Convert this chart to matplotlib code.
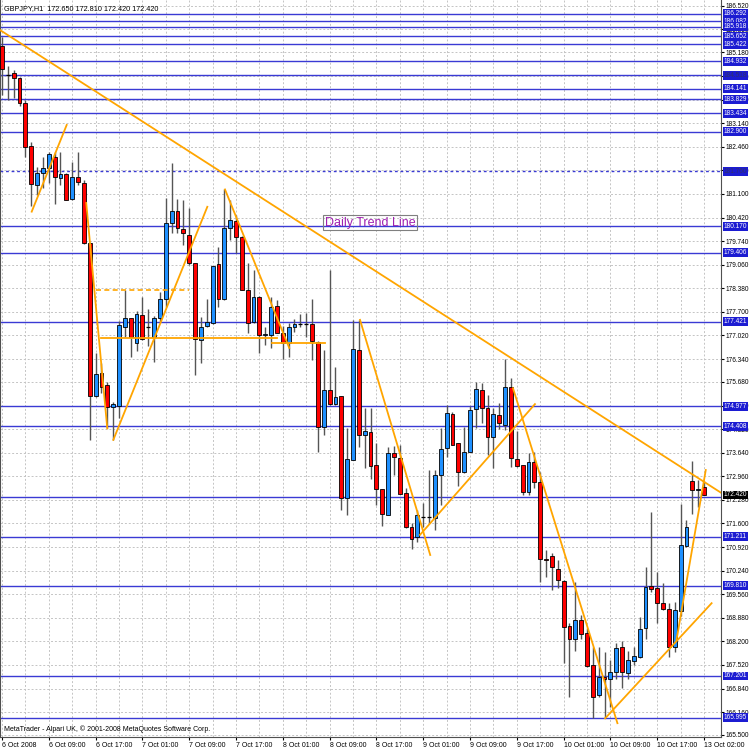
import matplotlib
matplotlib.use("Agg")
import matplotlib.pyplot as plt
from matplotlib.transforms import blended_transform_factory

plt.rcParams["font.family"] = ["Liberation Sans", "DejaVu Sans"]

# GBPJPY H1 candles (bar index = hours from 6 Oct 2008)
opens = [185.37, 184.54, 184.60, 184.45, 183.73, 182.48, 181.36, 181.70, 181.85, 182.17,
         181.56, 181.67, 180.95, 181.60, 181.42, 179.69, 175.28, 175.94, 175.59, 174.97,
         175.00, 177.27, 177.52, 176.81, 177.61, 177.25, 176.97, 177.52, 178.06, 180.27,
         180.61, 180.08, 179.92, 179.10, 176.89, 177.29, 177.37, 179.07, 178.06, 180.11,
         180.33, 179.87, 178.33, 177.42, 178.14, 177.03, 177.03, 177.88, 177.10, 176.81,
         177.27, 177.36, 177.36, 177.35, 176.84, 174.37, 175.45, 175.04, 175.27, 172.32,
         173.43, 176.60, 174.15, 174.24, 173.28, 172.58, 171.84, 173.64, 173.48, 172.47,
         171.49, 171.20, 171.78, 171.78, 171.75, 173.00, 173.77, 174.76, 173.91, 173.07,
         173.67, 174.89, 175.45, 174.92, 174.10, 174.73, 174.44, 175.54, 173.46, 173.28,
         172.51, 173.36, 172.80, 170.58, 170.66, 170.30, 169.95, 168.64, 168.26, 168.82,
         168.43, 167.51, 166.65, 167.18, 167.11, 167.32, 168.03, 167.30, 167.64, 167.74,
         168.58, 169.80, 169.73, 169.30, 169.12, 168.05, 169.08, 170.95, 172.83, 172.56,
         172.65]
highs = [185.63, 184.79, 184.67, 184.48, 183.81, 182.61, 181.89, 182.17, 182.32, 182.32,
         182.32, 181.71, 182.03, 182.32, 181.50, 179.70, 176.51, 176.23, 175.69, 175.11,
         177.45, 178.33, 177.53, 177.73, 178.14, 177.78, 177.58, 178.28, 180.98, 181.98,
         180.95, 180.93, 180.69, 179.10, 177.54, 178.06, 179.03, 179.58, 181.23, 180.93,
         180.49, 179.88, 179.10, 178.91, 178.15, 177.27, 178.14, 178.04, 177.29, 177.39,
         177.49, 177.64, 177.66, 178.06, 176.85, 176.60, 178.91, 176.12, 175.28, 174.34,
         177.47, 177.47, 174.92, 174.92, 173.91, 172.59, 173.81, 173.83, 173.86, 172.61,
         171.62, 171.99, 172.20, 173.14, 173.14, 174.34, 175.02, 174.82, 173.92, 174.39,
         174.99, 175.69, 175.64, 175.30, 174.92, 175.06, 176.33, 175.78, 174.27, 173.29,
         173.62, 173.67, 173.09, 170.83, 170.74, 170.55, 169.96, 168.74, 169.92, 168.96,
         168.58, 168.05, 168.05, 167.90, 167.66, 168.14, 168.22, 167.93, 168.05, 168.91,
         170.35, 171.94, 170.21, 169.87, 169.30, 169.34, 172.16, 171.70, 173.41, 172.85,
         172.81]
lows = [183.95, 183.81, 183.87, 183.64, 182.17, 180.75, 181.07, 181.27, 181.42, 180.81,
        181.36, 180.92, 180.93, 181.36, 179.66, 174.01, 175.25, 175.36, 174.35, 174.01,
        174.64, 176.98, 176.41, 176.58, 176.89, 176.72, 176.26, 177.42, 177.85, 179.97,
        179.97, 179.63, 179.05, 175.88, 176.22, 177.27, 177.35, 177.85, 178.04, 179.77,
        179.39, 178.32, 177.08, 177.37, 176.51, 176.74, 176.65, 177.09, 176.33, 176.39,
        177.13, 177.27, 176.98, 176.31, 173.67, 174.15, 175.01, 175.02, 171.99, 171.84,
        173.42, 173.81, 173.20, 172.88, 172.13, 171.53, 171.83, 173.00, 172.44, 171.48,
        170.85, 171.07, 171.49, 171.60, 171.41, 172.13, 173.52, 173.85, 172.68, 173.05,
        173.66, 174.34, 174.49, 173.57, 173.19, 174.31, 174.30, 173.24, 173.24, 172.42,
        172.42, 172.61, 169.92, 170.06, 169.68, 169.73, 167.58, 166.59, 167.93, 168.26,
        167.47, 165.98, 166.60, 166.00, 166.32, 167.11, 166.85, 167.11, 167.52, 167.72,
        168.26, 169.63, 168.74, 169.10, 167.74, 167.90, 168.93, 170.93, 171.87, 172.08,
        172.42]
closes = [184.70, 184.52, 184.44, 183.71, 182.46, 181.39, 181.70, 181.85, 182.25, 181.59,
          181.68, 180.93, 181.58, 181.45, 179.69, 175.28, 175.90, 175.54, 174.97, 175.04,
          177.32, 177.52, 176.97, 177.63, 176.91, 177.25, 177.52, 178.06, 180.25, 180.61,
          180.11, 179.97, 179.10, 176.91, 177.27, 177.40, 179.02, 178.06, 180.11, 180.35,
          179.85, 178.33, 177.39, 178.14, 177.03, 177.06, 177.83, 177.10, 176.81, 177.27,
          177.35, 177.36, 177.37, 176.87, 174.37, 175.45, 175.04, 175.25, 172.32, 173.45,
          176.62, 174.15, 174.26, 173.26, 172.58, 171.87, 173.64, 173.51, 172.45, 171.49,
          171.14, 171.84, 171.78, 171.78, 173.00, 173.74, 174.78, 173.86, 173.07, 173.67,
          174.87, 175.47, 174.92, 174.08, 174.76, 174.49, 175.54, 173.48, 173.26, 172.51,
          173.38, 172.80, 170.57, 170.55, 170.33, 169.97, 168.62, 168.26, 168.82, 168.41,
          167.49, 166.60, 167.18, 167.11, 167.32, 168.00, 167.32, 167.66, 167.78, 168.55,
          169.78, 169.70, 169.30, 169.12, 168.05, 169.10, 170.98, 171.51, 172.56, 172.60,
          172.42]

time_labels = ["6 Oct 2008", "6 Oct 09:00", "6 Oct 17:00", "7 Oct 01:00", "7 Oct 09:00",
               "7 Oct 17:00", "8 Oct 01:00", "8 Oct 09:00", "8 Oct 17:00", "9 Oct 01:00",
               "9 Oct 09:00", "9 Oct 17:00", "10 Oct 01:00", "10 Oct 09:00", "10 Oct 17:00",
               "13 Oct 02:00"]
price_ticks = [186.520, 185.850, 185.180, 184.500, 183.820, 183.140, 182.460, 181.780,
               181.100, 180.420, 179.740, 179.060, 178.380, 177.700, 177.020, 176.340,
               175.680, 175.000, 174.320, 173.640, 172.960, 172.280, 171.600, 170.920,
               170.240, 169.560, 168.880, 168.200, 167.520, 166.840, 166.160, 165.500]

# horizontal support / resistance levels
level_prices = [186.292, 186.082, 185.918, 185.652, 185.422, 184.932, 184.518, 184.141,
                183.829, 183.434, 182.900, 180.170, 179.406, 177.421, 174.977, 174.408,
                171.211, 169.810, 167.201, 165.995]
bid_line = 172.350
dotted_level = 181.760
last_price = 172.420

# orange drawn lines: (start bar, start price, end bar, end price)
seg_bar0 = [5.08, 14.4, 19.03, 38.12, 61.2, 71.45, 87.35, 103.1, 115.3, 17.0, 46.1]
seg_p0 = [180.59, 180.84, 174.01, 181.23, 177.47, 171.27, 175.50, 165.98, 168.24, 176.96, 176.81]
seg_bar1 = [11.06, 18.0, 35.1, 49.1, 73.2, 91.1, 105.2, 121.3, 120.3, 47.0, 55.2]
seg_p1 = [183.09, 174.34, 180.73, 176.66, 170.69, 175.04, 165.84, 169.30, 173.14, 176.96, 176.81]
dash_bar = [16.1, 32.0]
dash_price = 178.33
trend_pts = [(0, 185.79), (120, 172.80)]

BLUE_LINE = "#3a3ad4"
ORANGE = "#ffa500"

fig = plt.figure(figsize=(7.5, 7.5), dpi=100)
ax = fig.add_axes([0.0, 0.0173, 0.9613, 0.9827])
ax.set_xlim(-0.34, 122.9)
ax.set_ylim(165.441, 186.693)

# grid
ax.set_yticks(price_ticks)
ax.set_yticklabels([f"{p:.3f}" for p in price_ticks])
ax.set_xticks(range(0, 121, 8))
ax.set_xticklabels(time_labels)
ax.set_xticks(range(0, 121, 4), minor=True)
ax.grid(True, which="both", color="#c4c4c4", linestyle=(0, (2, 2)), linewidth=0.7)
ax.set_axisbelow(True)

ax.yaxis.tick_right()
ax.tick_params(axis="y", length=2, pad=1.2, labelsize=4.7, colors="#000000")
ax.tick_params(axis="x", which="major", length=2, pad=1.5, labelsize=5)
ax.tick_params(axis="x", which="minor", length=0)
for lab in ax.get_xticklabels():
    lab.set_horizontalalignment("left")

ax.spines["top"].set_visible(False)
for side in ["left", "right", "bottom"]:
    ax.spines[side].set_color("#505050")
    ax.spines[side].set_linewidth(0.8)

# levels
for p in level_prices + [bid_line]:
    ax.axhline(p, color=BLUE_LINE, lw=1.0, zorder=2)
ax.axhline(dotted_level, color=BLUE_LINE, lw=1.0, linestyle=(0, (2, 2)), zorder=2)

# candles
for i in range(len(opens)):
    o, h, l, c = opens[i], highs[i], lows[i], closes[i]
    ax.vlines(i, l, h, color="#555555", lw=1.0, zorder=3)
    if abs(c - o) < 0.02:
        ax.hlines(o, i - 0.32, i + 0.32, color="black", lw=0.9, zorder=4)
    else:
        col = "#1e90ff" if c > o else "#ff0000"
        ax.bar(i, abs(c - o), bottom=min(o, c), width=0.66, color=col,
               edgecolor="black", linewidth=0.6, zorder=4)

# orange drawings
ax.axline(trend_pts[0], trend_pts[1], color=ORANGE, lw=1.3, zorder=5)
for b0, p0, b1, p1 in zip(seg_bar0, seg_p0, seg_bar1, seg_p1):
    ax.plot([b0, b1], [p0, p1], color=ORANGE, lw=1.3, zorder=5)
ax.plot(dash_bar, [dash_price, dash_price], color=ORANGE, lw=1.2,
        linestyle=(0, (3, 2)), zorder=5)

ax.text(55.2, 180.44, "Daily Trend Line", fontsize=9, color="#a020b0",
        ha="left", va="top", zorder=6,
        bbox=dict(boxstyle="square,pad=0.12", fc="none", ec="#808080", lw=0.8))

# right-side level labels
tr = blended_transform_factory(ax.transAxes, ax.transData)
box_kw = dict(boxstyle="square,pad=0.15", fc="#1c1cd2", ec="none")
for p in level_prices:
    dark = p == 184.518
    ax.text(1.004, p, f"{p:.3f}", transform=tr, fontsize=4.7, va="center", ha="left",
            color="#30306a" if dark else "white", zorder=10, clip_on=False, bbox=box_kw)
ax.text(1.004, dotted_level, f"{dotted_level:.3f}", transform=tr, fontsize=4.7,
        va="center", ha="left", color="#30306a", zorder=10, clip_on=False, bbox=box_kw)
ax.text(1.004, last_price, f"{last_price:.3f}", transform=tr, fontsize=4.7,
        va="center", ha="left", color="white", zorder=11, clip_on=False,
        bbox=dict(boxstyle="square,pad=0.15", fc="black", ec="none"))

# header and footer
ax.text(0.006, 0.993, "GBPJPY,H1  172.650 172.810 172.420 172.420",
        transform=ax.transAxes, fontsize=5.2, ha="left", va="top")
ax.text(0.006, 0.006, "MetaTrader - Alpari UK, \u00a9 2001-2008 MetaQuotes Software Corp.",
        transform=ax.transAxes, fontsize=5, ha="left", va="bottom")

fig.savefig("out.png", dpi=100, facecolor="white")
